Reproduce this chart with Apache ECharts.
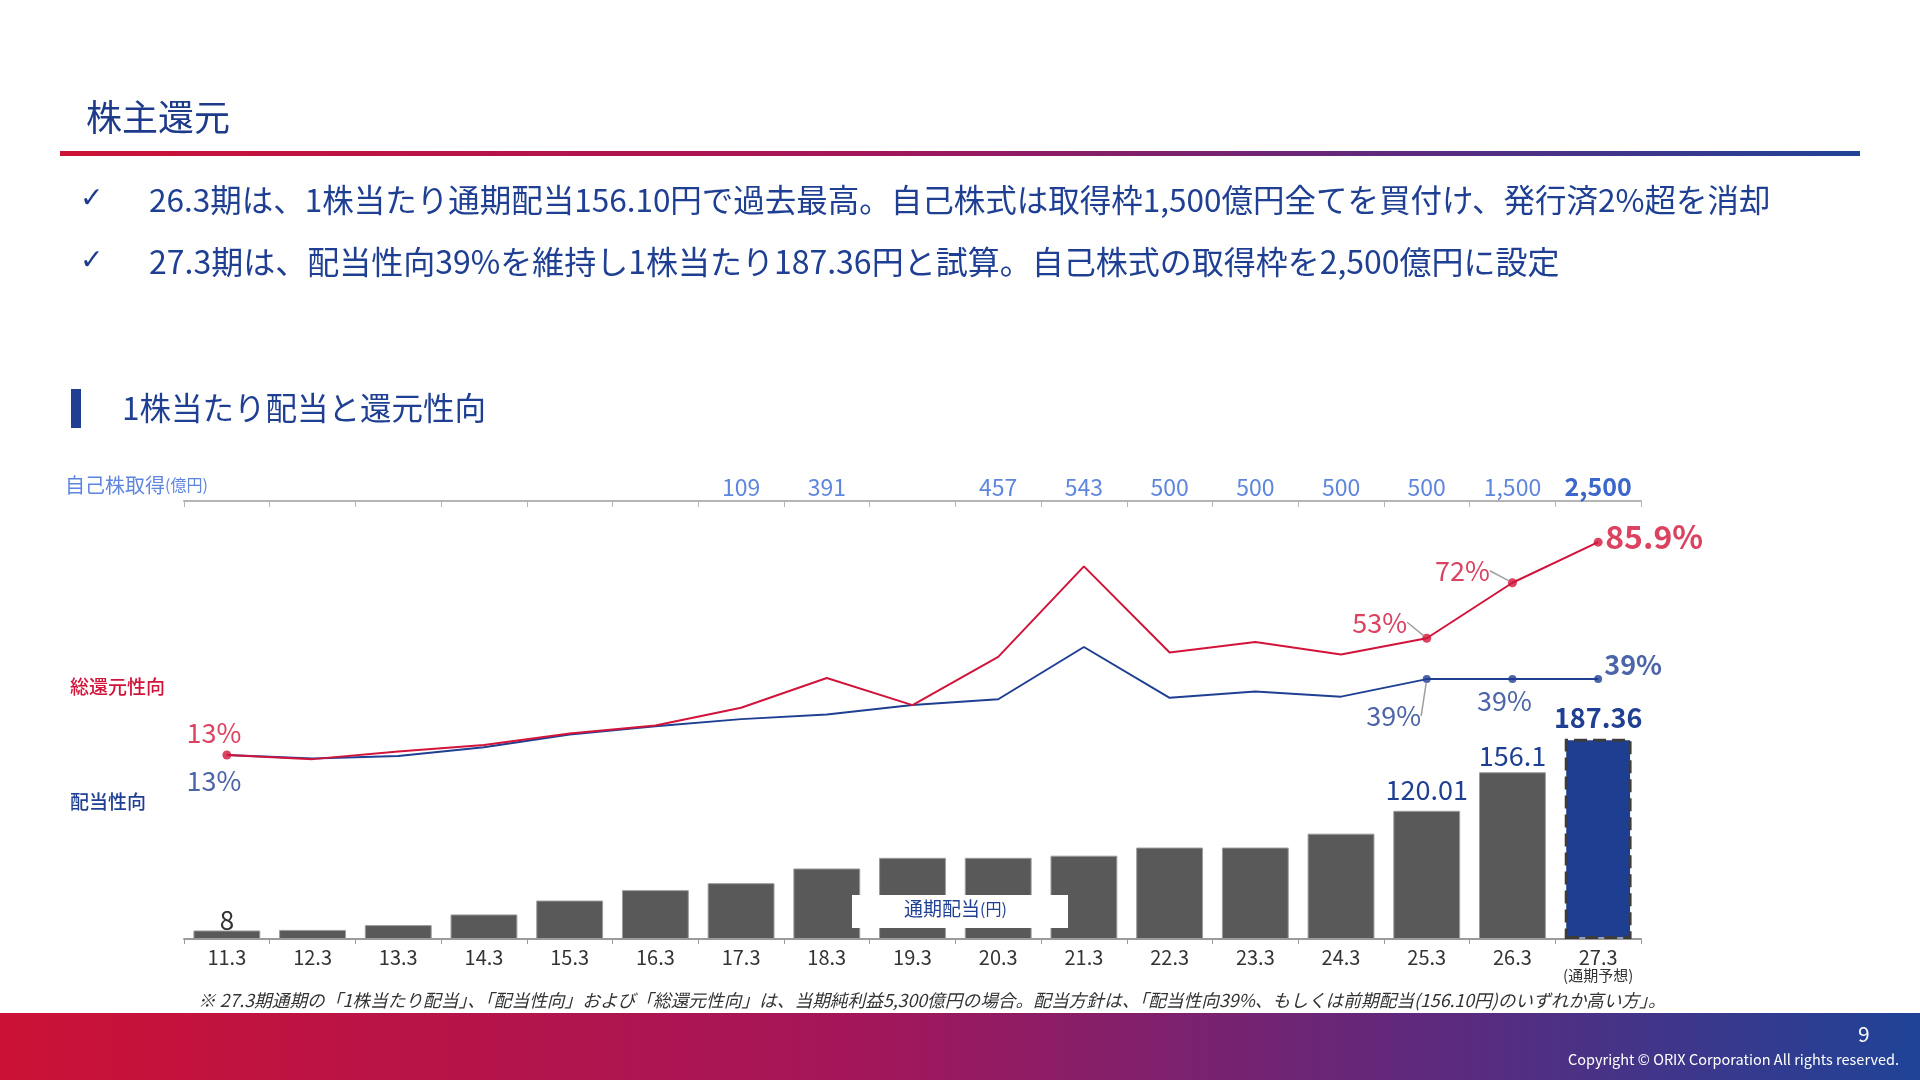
<!DOCTYPE html>
<html>
<head>
<meta charset="utf-8">
<script src="https://cdn.jsdelivr.net/npm/echarts@6/dist/echarts.min.js"></script>
<style>
  html, body { margin: 0; padding: 0; background: #fff; }
  #main { width: 1920px; height: 1080px; }
</style>
</head>
<body>
<div id="main"></div>
<script>
// 決算期
const categories = ['11.3','12.3','13.3','14.3','15.3','16.3','17.3','18.3','19.3','20.3','21.3','22.3','23.3','24.3','25.3','26.3','27.3'];
// 通期配当(円)
const dividend = [8, 8.5, 13, 23, 36, 45.75, 52.25, 66, 76, 76, 78, 85.6, 85.6, 98.6, 120.01, 156.1, 187.36];
// 配当性向(%)
const payout = [13, 11.8, 12.7, 15.7, 20.0, 22.9, 25.3, 26.9, 30.1, 32.1, 50.0, 32.6, 34.8, 33.0, 39, 39, 39];
// 総還元性向(%)
const totalReturn = [13, 11.6, 14.2, 16.4, 20.4, 23.1, 29.2, 39.4, 30.1, 46.6, 77.6, 48.1, 51.7, 47.4, 53, 72, 85.9];
// 自己株取得(億円)
const buyback = ['', '', '', '', '', '', '109', '391', '', '457', '543', '500', '500', '500', '500', '1,500', '2,500'];

const FONT = "'Noto Sans CJK JP', 'Noto Sans', sans-serif";
const RED = '#d2143a';
const BLUE = '#1f3f93';
const NAVY = '#1e3a8a';
const LIGHTBLUE = '#5f86de';

const gradStops = [
  {offset: 0, color: '#cc1236'},
  {offset: 0.45, color: '#a3165a'},
  {offset: 0.75, color: '#5d2a7e'},
  {offset: 1, color: '#1f4397'}
];

// 点とラベル（11.3期と25.3期以降）
const redPts = totalReturn.map((v, i) => (i === 0 || i >= 14) ? v : '-');
const bluePts = payout.map((v, i) => (i === 0 || i >= 14) ? v : '-');
const redLabelTxt = {0: '13%', 14: '53%', 15: '72%', 16: '{b|85.9%}'};
const blueLabelTxt = {0: '13%', 14: '39%', 15: '39%', 16: '{b|39%}'};
const redShift = {0: [-13, -22], 14: [-47, -16], 15: [-50, -12], 16: [56, -5]};
const blueShift = {0: [-13, 26], 14: [-33, 37], 15: [-8, 22], 16: [35, -14]};

function ptData(arr, guides, hidden) {
  return arr.map((v, i) => {
    if (v === '-') return '-';
    const d = {value: v, labelLine: {show: guides.indexOf(i) >= 0}};
    if (hidden.indexOf(i) >= 0) d.symbolSize = 0.01;
    return d;
  });
}

const barData = dividend.map((v, i) => {
  const d = {value: v};
  if (i === 0) d.label = {show: true, color: '#333', fontSize: 26, distance: -3};
  if (i === 14) d.label = {show: true, color: BLUE, fontSize: 27, distance: 8};
  if (i === 15) d.label = {show: true, color: BLUE, fontSize: 27, distance: 3};
  if (i === 16) {
    d.label = {show: true, color: BLUE, fontSize: 27, fontWeight: 'bold', distance: 8};
    d.itemStyle = {color: '#1e3f91', borderColor: '#3c3c3c', borderWidth: 3, borderType: [13, 6]};
  }
  return d;
});

const chart = echarts.init(document.getElementById('main'));
const option = {
  animation: false,
  textStyle: {fontFamily: FONT},
  grid: {left: 184, right: 279, top: 501, bottom: 141},
  xAxis: [{
    type: 'category',
    data: categories,
    position: 'bottom',
    axisLine: {onZero: false, lineStyle: {color: '#9a9a9a', width: 2}},
    axisTick: {show: true, length: 5, lineStyle: {color: '#9a9a9a'}},
    axisLabel: {
      color: '#333', fontSize: 20, margin: 8, lineHeight: 20, interval: 0,
      formatter: function (v) { return v === '27.3' ? v + '\n{s|(通期予想)}' : v; },
      rich: {s: {fontSize: 15, color: '#333', lineHeight: 16}}
    }
  }, {
    type: 'category',
    data: buyback,
    position: 'top',
    axisLine: {onZero: false, lineStyle: {color: '#b5b5b5', width: 2}},
    axisTick: {show: true, inside: true, length: 6, lineStyle: {color: '#b5b5b5'}},
    axisLabel: {
      color: LIGHTBLUE, fontSize: 23, margin: 2, interval: 0,
      formatter: function (v, i) { return i === 16 ? '{b|' + v + '}' : v; },
      rich: {b: {fontSize: 25, fontWeight: 'bold', color: '#3d66cc'}}
    }
  }],
  yAxis: [
    {type: 'value', min: 0, max: 410, show: false},
    {type: 'value', min: -50, max: 100, show: false}
  ],
  series: [{
    name: '通期配当',
    type: 'bar',
    data: barData,
    barCategoryGap: '22%',
    itemStyle: {color: '#595959', borderColor: '#9c9c9c', borderWidth: 1},
    label: {show: false, position: 'top', fontFamily: FONT},
    z: 2
  }, {
    name: '配当性向',
    type: 'line',
    yAxisIndex: 1,
    data: payout,
    symbol: 'none',
    lineStyle: {color: BLUE, width: 2},
    z: 3
  }, {
    name: '総還元性向',
    type: 'line',
    yAxisIndex: 1,
    data: totalReturn,
    symbol: 'none',
    lineStyle: {color: RED, width: 2},
    z: 4
  }, {
    name: '配当性向点',
    type: 'scatter',
    yAxisIndex: 1,
    data: ptData(bluePts, [14], [0]),
    symbolSize: 8,
    itemStyle: {color: BLUE},
    label: {
      show: true, position: 'inside', color: BLUE, fontSize: 27,
      formatter: function (p) { return blueLabelTxt[p.dataIndex] || ''; },
      rich: {b: {fontSize: 27, fontWeight: 'bold', color: BLUE}}
    },
    labelLine: {lineStyle: {color: '#a0a0a0', width: 1.5}},
    labelLayout: function (p) {
      const s = blueShift[p.dataIndex];
      return s ? {dx: s[0], dy: s[1]} : {};
    },
    z: 5
  }, {
    name: '総還元性向点',
    type: 'scatter',
    yAxisIndex: 1,
    data: ptData(redPts, [14, 15], []),
    symbolSize: 9,
    itemStyle: {color: RED},
    label: {
      show: true, position: 'inside', color: RED, fontSize: 27,
      formatter: function (p) { return redLabelTxt[p.dataIndex] || ''; },
      rich: {b: {fontSize: 32, fontWeight: 'bold', color: RED}}
    },
    labelLine: {lineStyle: {color: '#a0a0a0', width: 1.5}},
    labelLayout: function (p) {
      const s = redShift[p.dataIndex];
      return s ? {dx: s[0], dy: s[1]} : {};
    },
    z: 6
  }],
  graphic: [
    // タイトル
    {type: 'text', left: 86, top: 99, style: {text: '株主還元', fill: NAVY, fontSize: 36, fontFamily: FONT}},
    {type: 'rect', shape: {x: 60, y: 151, width: 1800, height: 5},
      style: {fill: new echarts.graphic.LinearGradient(0, 0, 1, 0, gradStops)}},
    // 本文
    {type: 'text', left: 80, top: 186, style: {text: '✓', fill: NAVY, fontSize: 28, fontFamily: 'DejaVu Sans'}},
    {type: 'text', left: 149, top: 184, style: {text: '26.3期は、1株当たり通期配当156.10円で過去最高。自己株式は取得枠1,500億円全てを買付け、発行済2%超を消却', fill: BLUE, fontSize: 31.5, fontFamily: FONT}},
    {type: 'text', left: 80, top: 248, style: {text: '✓', fill: NAVY, fontSize: 28, fontFamily: 'DejaVu Sans'}},
    {type: 'text', left: 149, top: 246, style: {text: '27.3期は、配当性向39%を維持し1株当たり187.36円と試算。自己株式の取得枠を2,500億円に設定', fill: BLUE, fontSize: 32, fontFamily: FONT}},
    // 小見出し
    {type: 'rect', shape: {x: 71, y: 389, width: 10, height: 39}, style: {fill: BLUE}},
    {type: 'text', left: 122, top: 392, style: {text: '1株当たり配当と還元性向', fill: BLUE, fontSize: 31.5, fontFamily: FONT}},
    // 軸ラベル
    {type: 'text', left: 65, top: 475, style: {text: '自己株取得{s|(億円)}', fill: LIGHTBLUE, fontSize: 20, fontFamily: FONT,
      rich: {s: {fontSize: 16, fill: LIGHTBLUE, fontFamily: FONT}}}},
    {type: 'text', left: 70, top: 677, style: {text: '総還元性向', fill: RED, fontSize: 19, fontWeight: 500, fontFamily: FONT}},
    {type: 'text', left: 70, top: 792, style: {text: '配当性向', fill: BLUE, fontSize: 19, fontWeight: 500, fontFamily: FONT}},
    // 通期配当ラベル
    {type: 'rect', z: 100, shape: {x: 852, y: 895, width: 216, height: 33}, style: {fill: '#fff'}},
    {type: 'text', z: 101, left: 904, top: 899, style: {text: '通期配当{s|(円)}', fill: BLUE, fontSize: 19, fontFamily: FONT,
      rich: {s: {fontSize: 16, fill: BLUE, fontFamily: FONT}}}},
    // 注記
    {type: 'text', left: 198, top: 991, style: {text: '※ 27.3期通期の「1株当たり配当」、「配当性向」および「総還元性向」は、当期純利益5,300億円の場合。配当方針は、「配当性向39%、もしくは前期配当(156.10円)のいずれか高い方」。',
      fill: '#333', fontSize: 17.7, fontStyle: 'italic', fontFamily: FONT}},
    // フッター
    {type: 'rect', shape: {x: 0, y: 1013, width: 1920, height: 67},
      style: {fill: new echarts.graphic.LinearGradient(0, 0, 1, 0, gradStops)}},
    {type: 'text', left: 1858, top: 1024, style: {text: '9', fill: '#fff', fontSize: 21, fontFamily: FONT}},
    {type: 'text', right: 21, top: 1052, style: {text: 'Copyright © ORIX Corporation All rights reserved.', fill: '#fff', fontSize: 14.5, fontFamily: FONT}}
  ]
};
chart.setOption(option);
</script>
</body>
</html>
